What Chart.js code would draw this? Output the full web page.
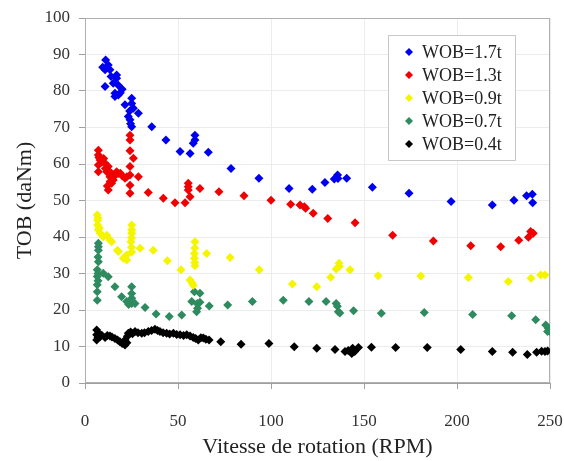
<!DOCTYPE html>
<html>
<head>
<meta charset="utf-8">
<script src="https://cdn.jsdelivr.net/npm/chart.js@4"></script>
<style>
  html, body { margin: 0; background: #fff; }
</style>
</head>
<body>
<canvas id="tobChart" width="564" height="461"></canvas>
<script>
// Series labels

let seriesLabels = ["WOB=1.7t", "WOB=1.3t", "WOB=0.9t", "WOB=0.7t", "WOB=0.4t"];

// WOB = 1.7t

let rpm17 = [11.1, 12.5, 10.8, 13.4, 17, 17, 10.8, 15.2, 17.9, 16.1, 17.9, 16.1, 25.1, 25.1, 21.5, 26, 28.7, 23.3, 24.2, 25.1, 35.9, 43.5, 59.1, 59.1, 58.2, 51.1, 56.5, 66.3, 9.5, 14, 19, 20, 24, 24.5, 78.5, 93.5, 109.7, 122.2, 129, 134, 135.8, 136, 140.7, 154.5, 174.2, 196.8, 219, 230.6, 237.4, 240.5, 240.7];
let tob17 = [88.5, 87.1, 85.8, 85.8, 84.4, 83.5, 81.2, 82.1, 81.6, 79.4, 78.9, 78.5, 78, 76.6, 76.2, 75.3, 73.9, 73, 72.1, 70.2, 70.2, 66.6, 67.9, 66.6, 65.7, 63.4, 62.9, 63.2, 86.5, 84, 79.5, 80.5, 74.5, 71, 58.8, 56.1, 53.3, 53.1, 54.9, 55.9, 57, 56, 56.1, 53.6, 52, 49.7, 48.8, 50.1, 51.3, 51.7, 49.4];

// WOB = 1.3t

let rpm13 = [24.2, 24.2, 7.2, 24.2, 7.2, 8.1, 26, 7.2, 10.8, 12.5, 7.2, 11.7, 14.3, 17, 17.9, 13.4, 15.2, 21.5, 24.2, 24.2, 28.7, 14.3, 12.5, 24.2, 24.2, 9, 11, 13, 16, 19, 20, 13.5, 12, 22.5, 10, 7.5, 34, 42.1, 48.4, 53.8, 55.5, 55.5, 55.5, 56.5, 61.8, 72, 85.5, 100, 110.6, 115.6, 117.9, 118.6, 122.7, 130.5, 145.2, 165.4, 187.3, 207.4, 223.5, 233.2, 238.4, 239.6, 241];
let tob13 = [67.9, 66.6, 63.8, 63.6, 62.5, 61.1, 61.6, 59.7, 60.2, 59.3, 57.9, 57.9, 57.4, 57.9, 57.4, 56.5, 55.6, 56.1, 59.3, 57, 56.5, 54.7, 52.9, 54.2, 52, 60.5, 58.8, 58, 56.8, 57.5, 56.8, 55.2, 54, 56.5, 61.5, 61.8, 52.2, 50.6, 49.4, 49.4, 54.7, 53.8, 52.9, 51, 53.3, 52.4, 51.3, 50.1, 49, 48.8, 48.3, 47.9, 46.5, 45.1, 43.9, 40.5, 38.9, 37.6, 37.3, 39.1, 39.9, 41.5, 41];

// WOB = 0.9t

let rpm09 = [6.6, 7, 6.8, 6.8, 7.2, 7.7, 8.1, 9.8, 11.7, 13.4, 14.3, 17.4, 17.9, 20.6, 22.4, 22.4, 25.1, 25.1, 25.1, 25, 24.7, 25, 25.1, 29.6, 36.7, 44.3, 51.6, 59.1, 59, 58.8, 58.8, 59, 59.1, 56.5, 57.5, 58.2, 65.4, 78, 93.7, 111.5, 124.6, 132.1, 135, 136.6, 136.8, 142.5, 157.6, 180.5, 206.1, 227.6, 239.8, 245, 247.3];
let tob09 = [46, 45.2, 44.6, 43.3, 42, 42.5, 41, 40.1, 40.5, 39.2, 38.7, 36.4, 36, 34.2, 33.7, 35.1, 43.3, 42, 41, 39.8, 38.7, 37.2, 35.9, 36.9, 36.4, 33.5, 31, 38.7, 37, 35.5, 34.2, 33, 32.1, 28.2, 27.5, 26.8, 35.5, 34.4, 31, 27.1, 26.4, 29, 31.2, 32.8, 32, 31, 29.4, 29.3, 28.9, 27.8, 28.7, 29.6, 29.6];

// WOB = 0.7t

let rpm07 = [7.2, 7.2, 7.2, 7, 7.2, 6.6, 7, 6.6, 7, 6.6, 6.6, 6.6, 9.8, 12.5, 16.1, 19.7, 22.4, 23.5, 25.1, 25.1, 25.1, 25.1, 26.9, 32.3, 38.2, 45.3, 52, 58.8, 57.4, 60.3, 60, 61.8, 61.8, 60.5, 66.8, 76.7, 90, 106.6, 120.4, 129.6, 135, 135.7, 136.2, 137, 144.4, 159.3, 182.4, 208.4, 229.4, 242.3, 247.7, 249.1, 250, 248.7];
let tob07 = [38.3, 37.3, 36.4, 34.5, 33.2, 31, 30, 29.2, 28, 26.9, 25, 22.7, 30.1, 29.1, 26.4, 23.6, 22.3, 21.5, 26.4, 24.5, 23.2, 21.8, 21.8, 20.7, 18.9, 18.2, 18.6, 25, 22.3, 21.8, 19.5, 24.6, 22.1, 20.5, 21.1, 21.4, 22.3, 22.7, 22.3, 22.3, 21.8, 21, 19.5, 19.2, 19.8, 19.1, 19.3, 18.8, 18.4, 17.3, 15.9, 15, 14.1, 14.1];

// WOB = 0.4t

let rpm04 = [6.3, 6.3, 6.3, 7, 7.5, 8.1, 9, 10.8, 12, 13.4, 14.5, 16.1, 17.5, 18.8, 20, 21.5, 22.5, 21.5, 22.8, 23.3, 24.5, 25.5, 26.9, 28.5, 30.5, 32, 34, 35.8, 37.6, 39, 40.3, 42, 43.9, 45.5, 47.5, 49.3, 51.1, 53, 54.7, 56.5, 58.2, 59.5, 60.9, 62.3, 63.6, 65, 66.7, 73, 83.9, 98.9, 112.5, 124.6, 134.4, 139.8, 141.5, 143.4, 143.9, 145, 147, 154, 167, 184, 202, 219, 229.9, 237.8, 242.8, 245.5, 247.3, 248.7];
let tob04 = [14.5, 13.2, 11.8, 12.5, 13.5, 12.7, 13.1, 12.5, 13, 12.9, 12.6, 12.2, 11.8, 11.3, 10.8, 10.4, 11, 11.8, 12.8, 13.6, 14, 13.5, 14.1, 13.8, 13.6, 13.8, 14.1, 14.4, 14.7, 14.4, 14.1, 13.8, 13.6, 13.4, 13.6, 13.3, 13.2, 13, 13.2, 12.9, 12.5, 12.2, 11.8, 12.4, 12.3, 12, 11.8, 11.3, 10.6, 10.8, 9.9, 9.5, 9.2, 8.6, 8.9, 8.1, 9.5, 8.6, 9.7, 9.8, 9.7, 9.7, 9.2, 8.6, 8.4, 7.8, 8.4, 8.7, 8.6, 8.8];

// Axis ticks

let xTicks = [0, 50, 100, 150, 200, 250];
let yTicks = [0, 10, 20, 30, 40, 50, 60, 70, 80, 90, 100];

// Styles

let seriesColors = ["#0000f0", "#f00000", "#f5f500", "#2e8b5f", "#000000"];
let serifFont = "'Liberation Serif', 'Times New Roman', serif";

function toPoints(xs, ys) {
  return xs.map((x, i) => ({ x: x, y: ys[i] }));
}

let seriesData = [
  toPoints(rpm17, tob17),
  toPoints(rpm13, tob13),
  toPoints(rpm09, tob09),
  toPoints(rpm07, tob07),
  toPoints(rpm04, tob04),
];

// Frame round the plot area

const framePlugin = {
  id: "frame",
  beforeDatasetsDraw(chart) {
    const { ctx, chartArea } = chart;
    ctx.save();
    ctx.strokeStyle = "#b0b0b0";
    ctx.lineWidth = 1;
    ctx.strokeRect(chartArea.left + 0.5, chartArea.top + 0.5, chartArea.width - 1, chartArea.height - 1);
    ctx.restore();
  },
};

// Legend box inside the plot

const boxLegend = {
  id: "boxLegend",
  afterDatasetsDraw(chart) {
    const { ctx, chartArea } = chart;
    const left = chartArea.right - 162;
    const top = chartArea.top + 17;
    const w = 127, h = 125, step = 23;
    ctx.save();
    ctx.fillStyle = "#fff";
    ctx.fillRect(left, top, w, h);
    ctx.strokeStyle = "#c8c8c8";
    ctx.lineWidth = 1;
    ctx.strokeRect(left + 0.5, top + 0.5, w, h);
    ctx.font = "18px " + serifFont;
    ctx.textBaseline = "middle";
    chart.data.datasets.forEach((ds, i) => {
      const cy = top + 17 + i * step;
      const cx = left + 21;
      ctx.fillStyle = ds.backgroundColor;
      ctx.beginPath();
      ctx.moveTo(cx - 4, cy);
      ctx.lineTo(cx, cy - 4);
      ctx.lineTo(cx + 4, cy);
      ctx.lineTo(cx, cy + 4);
      ctx.closePath();
      ctx.fill();
      ctx.fillStyle = "#222";
      ctx.fillText(ds.label, left + 34, cy + 1);
    });
    ctx.restore();
  },
};

var ctx = document.getElementById("tobChart").getContext("2d");
var tobChart = new Chart(ctx, {
  type: "scatter",
  data: {
    datasets: seriesData.map((pts, i) => ({
      label: seriesLabels[i],
      data: pts,
      backgroundColor: seriesColors[i],
      borderColor: seriesColors[i],
      pointStyle: "rectRot",
      pointRadius: 4.5,
      borderWidth: 0,
    })),
  },
  options: {
    responsive: false,
    animation: false,
    layout: {
      padding: { left: 0, right: 14, top: 18, bottom: 0 },
    },
    plugins: {
      legend: { display: false },
      tooltip: { enabled: false },
    },
    scales: {
      x: {
        type: "linear",
        min: 0,
        max: 250,
        afterBuildTicks: (axis) => { axis.ticks = xTicks.map((v) => ({ value: v })); },
        afterFit: (axis) => {
          axis.height = 78;
          axis.paddingLeft = 0;
          axis.paddingRight = 0;
        },
        ticks: { font: { family: serifFont, size: 17 }, color: "#333", padding: 22 },
        grid: { color: "#ececec", tickColor: "#a0a0a0", tickLength: 6 },
        border: { color: "#a0a0a0" },
        title: {
          display: true,
          text: "Vitesse de rotation (RPM)",
          font: { family: serifFont, size: 22 },
          color: "#222",
          padding: { top: 4, bottom: 1 },
        },
      },
      y: {
        min: 0,
        max: 100,
        afterBuildTicks: (axis) => { axis.ticks = yTicks.map((v) => ({ value: v })); },
        afterFit: (axis) => {
          axis.width = 85;
          axis.paddingTop = 0;
          axis.paddingBottom = 0;
        },
        ticks: { font: { family: serifFont, size: 17 }, color: "#333", padding: 9 },
        grid: { color: "#ececec", tickColor: "#a0a0a0", tickLength: 6 },
        border: { color: "#a0a0a0" },
        title: {
          display: true,
          text: "TOB (daNm)",
          font: { family: serifFont, size: 22 },
          color: "#222",
          padding: { top: 12, bottom: 6 },
        },
      },
    },
  },
  plugins: [framePlugin, boxLegend],
});
</script>
</body>
</html>
